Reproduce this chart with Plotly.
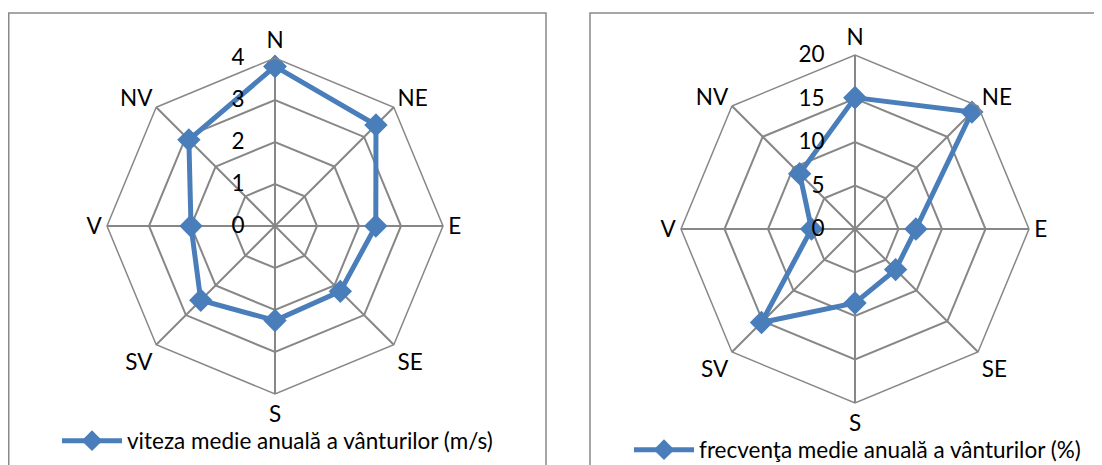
import plotly.graph_objects as go

directions = ["N", "NE", "E", "SE", "S", "SV", "V", "NV"]
viteza = [3.8, 3.4, 2.4, 2.2, 2.25, 2.5, 2.0, 2.9]
frecventa = [15.1, 19.0, 7.0, 6.6, 8.5, 15.2, 5.0, 9.0]
left_ticks = [0, 1, 2, 3, 4]
right_ticks = [0, 5, 10, 15, 20]
name_left = "viteza medie anuală a vânturilor (m/s)"
name_right = "frecvenţa medie anuală a vânturilor (%)"

W, H = 1102, 465
OFF = 8  # page body margin offset
BLUE = "#4A7EBB"
GRID = "#878787"
FONT = "Lato"
FS = 22.5

def px(x):
    return (x - OFF) / W

def py(y):
    return 1 - (y - OFF) / H

def closed(a):
    return list(a) + [a[0]]

fig = go.Figure()
fig.add_trace(go.Scatterpolar(
    r=closed(viteza), theta=closed(directions), mode="lines+markers",
    name=name_left, subplot="polar", legend="legend",
    line=dict(color=BLUE, width=5), marker=dict(symbol="diamond", size=18, color=BLUE),
))
fig.add_trace(go.Scatterpolar(
    r=closed(frecventa), theta=closed(directions), mode="lines+markers",
    name=name_right, subplot="polar2", legend="legend2",
    line=dict(color=BLUE, width=5), marker=dict(symbol="diamond", size=18, color=BLUE),
))

def polar_cfg(cx, cy, rad, ticks):
    return dict(
        domain=dict(x=[px(cx - rad), px(cx + rad)],
                    y=[py(cy + rad), py(cy - rad)]),
        gridshape="linear",
        bgcolor="white",
        radialaxis=dict(range=[ticks[0], ticks[-1]], tickvals=ticks, angle=90,
                        side="counterclockwise", tickangle=90,
                        showline=False, gridcolor=GRID, gridwidth=1.5,
                        ticks="outside", ticklen=22, tickcolor="rgba(0,0,0,0)",
                        tickfont=dict(family=FONT, size=FS, color="black")),
        angularaxis=dict(categoryarray=directions, direction="clockwise", rotation=90,
                         showline=True, linecolor=GRID, linewidth=1.5,
                         gridcolor=GRID, gridwidth=1.5, ticks="",
                         tickfont=dict(family=FONT, size=FS, color="black")),
    )

fig.update_layout(
    width=W, height=H,
    margin=dict(l=0, r=0, t=0, b=0),
    paper_bgcolor="white",
    polar=polar_cfg(275, 226, 168, left_ticks),
    polar2=polar_cfg(855, 229, 174, right_ticks),
    legend=dict(x=49 / W, y=py(441), xanchor="left", yanchor="middle",
                font=dict(family=FONT, size=FS, color="black"), bgcolor="rgba(0,0,0,0)",
                itemwidth=60, tracegroupgap=0),
    legend2=dict(x=621 / W, y=py(450), xanchor="left", yanchor="middle",
                 font=dict(family=FONT, size=FS, color="black"), bgcolor="rgba(0,0,0,0)",
                 itemwidth=60, tracegroupgap=0),
    showlegend=True,
    shapes=[
        dict(type="rect", xref="paper", yref="paper",
             x0=px(8.75), x1=px(546), y0=0, y1=py(13),
             line=dict(color="#898989", width=1.5)),
        dict(type="rect", xref="paper", yref="paper",
             x0=px(590), x1=1.0, y0=0, y1=py(13),
             line=dict(color="#898989", width=1.5)),
    ],
)

fig.write_html("out.html")
